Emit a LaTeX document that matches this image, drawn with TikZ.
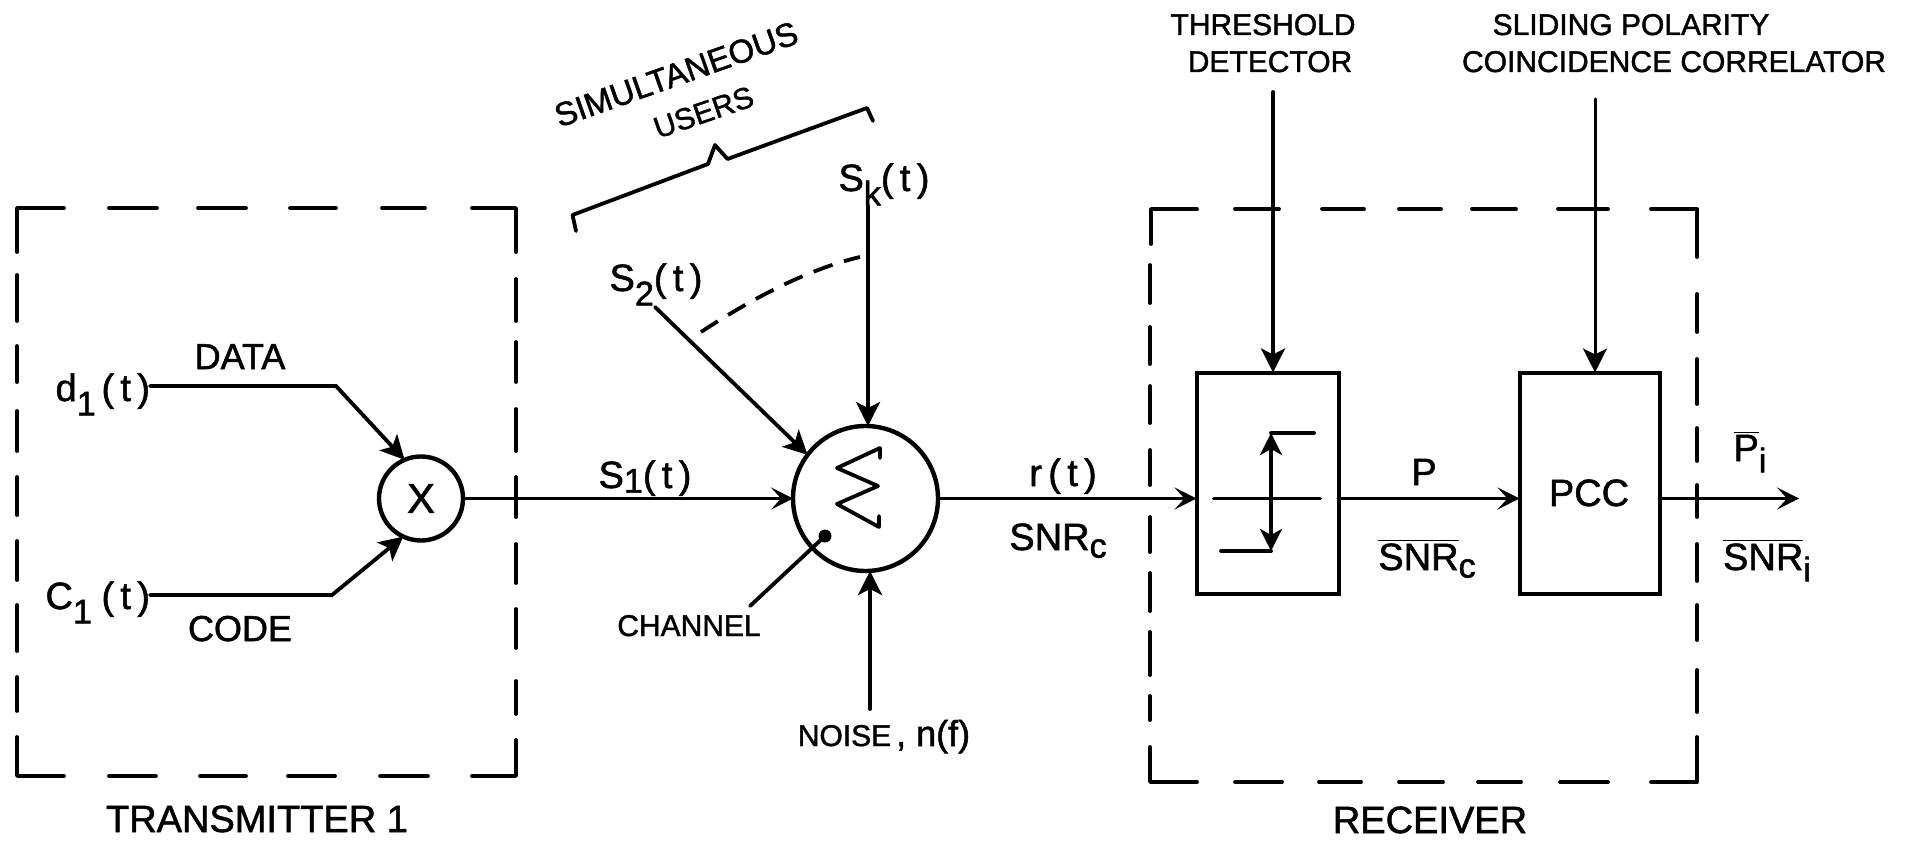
\documentclass[tikz,border=0pt]{standalone}
\usepackage{fontspec}
\setmainfont{Liberation Sans}[RawFeature={embolden=1.4}]
\usetikzlibrary{arrows.meta}
\newcommand{\dnsub}[2][0.38em]{\raisebox{-#1}{\scalebox{0.9}{#2}}}
\newcommand{\ovl}[1]{$\overline{\hbox{#1}}$}
\tikzset{
  x=0.5pt,y=-0.5pt,
  wire/.style={line width=1.9pt,line cap=round,line join=miter},
  barb/.style={wire,-{Stealth[length=11pt,width=11pt,inset=5pt]}},
  solidtip/.style={wire,-{Stealth[length=12pt,width=12pt,inset=3pt]}},
  bothtip/.style={wire,{Stealth[length=11pt,width=11pt,inset=3pt]}-{Stealth[length=11pt,width=11pt,inset=3pt]}},
  dashseg/.style={line width=1.9pt,line cap=round,line join=round},
  box/.style={draw,line width=2pt,inner sep=0pt,outer sep=0pt},
  disc/.style={draw,circle,line width=2.2pt,inner sep=0pt,outer sep=0pt},
  lab/.style={inner sep=0pt,outer sep=0pt,anchor=base},
  big/.style={lab,font=\fontsize{19}{19}\selectfont},
  mid/.style={lab,font=\fontsize{18}{18}\selectfont},
  small/.style={lab,font=\fontsize{15}{15}\selectfont},
}
\begin{document}
\begin{tikzpicture}
\useasboundingbox (0,0) rectangle (1910,840);
% Transmitter dashed frame
\draw[dashseg] (17,252)--(17,208)--(64,208);
\foreach \a/\b in {109/157,198/246,290/336,382/425}{\draw[dashseg] (\a,208)--(\b,208);}
\draw[dashseg] (472,208)--(516,208)--(516,252);
\foreach \a/\b in {279/321,342/382,409/451,477/517,544/583,609/648,681/714}{\draw[dashseg] (516,\a)--(516,\b);}
\draw[dashseg] (516,740)--(516,776)--(472,776);
\foreach \a/\b in {109/156,200/246,288/335,380/428}{\draw[dashseg] (\a,776)--(\b,776);}
\draw[dashseg] (64,776)--(17,776)--(17,737);
\foreach \a/\b in {275/321,346/382,411/451,477/515,541/580,605/651,677/711}{\draw[dashseg] (17,\a)--(17,\b);}
% Receiver dashed frame
\draw[dashseg] (1151,244)--(1151,209)--(1197,209);
\foreach \a/\b in {1235/1279,1322/1364,1399/1441,1472/1516,1558/1608}{\draw[dashseg] (\a,209)--(\b,209);}
\draw[dashseg] (1651,209)--(1697,209)--(1697,257);
\foreach \a/\b in {294/332,359/404,428/461,485/517,544/581,605/640,670/712}{\draw[dashseg] (1697,\a)--(1697,\b);}
\draw[dashseg] (1697,737)--(1697,782)--(1651,782);
\foreach \a/\b in {1235/1282,1319/1361,1399/1443,1478/1521,1560/1608}{\draw[dashseg] (\a,782)--(\b,782);}
\draw[dashseg] (1197,782)--(1150,782)--(1150,747);
\foreach \a/\b in {265/303,327/364,386/423,450/485,517/552,573/611,632/675,696/720}{\draw[dashseg] (1150,\a)--(1150,\b);}
% Blocks
\node[disc,minimum size=42pt,font=\fontsize{21}{21}\selectfont] (mul) at (421,498.5) {X};
\node[disc,minimum size=72.5pt] (sum) at (865.5,498.5) {};
\node[box,minimum width=71pt,minimum height=110.5pt] (thr) at (1267.5,483) {};
\node[box,minimum width=70pt,minimum height=110.5pt] (pcc) at (1589.5,483) {};
\node[lab,font=\fontsize{19}{19}\selectfont] (pcclab) at (1589,506) {PCC};
% Texts
\node[big,anchor=base east] (d1) at (150,401) {d\dnsub{1}\hspace{0.15em}(\,t\,)};
\node[big,anchor=base east] (c1) at (150,609) {C\dnsub{1}\hspace{0.25em}(\,t\,)};
\node[mid] (data) at (240,369) {DATA};
\node[mid] (code) at (240,641) {CODE};
\node[big] (tx) at (257,832) {TRANSMITTER 1};
\node[big] (s1) at (645,488) {S\dnsub[0.12em]{1}(\,t\,)};
\node[big] (s2) at (656,291) {S\dnsub{2}(\,t\,)};
\node[big] (sk) at (884,191) {S\dnsub{k}(\,t\,)};
\node[big] (rt) at (1063,486) {r\,(\,t\,)};
\node[big] (snrc) at (1058,550) {SNR\dnsub[0.2em]{c}};
\node[small] (chan) at (689,636) {CHANNEL};
\node[lab] (noise) at (884,746) {\fontsize{15}{15}\selectfont NOISE\,\fontsize{18}{18}\selectfont, n(f)};
\node[lab,font=\fontsize{16.5}{16.5}\selectfont,rotate=19.5] (sim) at (680,85) {SIMULTANEOUS};
\node[small,rotate=19] (users) at (707,122) {USERS};
\node[small] (th1) at (1263,35) {THRESHOLD};
\node[small] (th2) at (1270,72) {DETECTOR};
\node[small] (sl1) at (1631,35) {SLIDING POLARITY};
\node[small] (sl2) at (1674,72) {COINCIDENCE CORRELATOR};
\node[big] (p) at (1424,485) {P};
\node[big] (snrbar) at (1427,570) {\ovl{SNR}\dnsub[0.2em]{c}};
\node[big] (pi) at (1750,461) {\ovl{P}\dnsub[0.3em]{i}};
\node[big] (snri) at (1767,570) {\ovl{SNR}\dnsub[0.3em]{i}};
\node[big] (rx) at (1430,833) {RECEIVER};
% Free ends and bends
\coordinate (dbend) at (336,386);
\coordinate (cbend) at (332,595);
\coordinate (s2start) at (655,307);
\coordinate (sktop) at (868,206);
\coordinate (noisebot) at (870,709);
\coordinate (chanstart) at (750,606);
\coordinate (chandot) at (825,536);
\coordinate (thtop) at (1273,92);
\coordinate (pcctop) at (1595,99);
\coordinate (out) at (1799,498.5);
% Connectors
\draw[solidtip] (d1.east|-dbend) -- (dbend) -- (mul.113);
\draw[solidtip] (c1.east|-cbend) -- (cbend) -- (mul.245);
\draw[barb] (mul.east) -- (sum.west);
\draw[solidtip] (s2start) -- (sum.143);
\draw[solidtip] (sktop) -- (sktop|-sum.north);
\draw[solidtip] (noisebot) -- (noisebot|-sum.south);
\draw[wire] (chanstart) -- (chandot);
\fill (chandot) circle[radius=6.5];
\draw[barb] (sum.east) -- (sum.east-|thr.west);
\draw[barb] (thr.east|-sum.east) -- (pcc.west|-sum.east);
\draw[barb] (pcc.east|-sum.east) -- (out);
\draw[solidtip] (thtop) -- (thtop|-thr.north);
\draw[solidtip,line width=1.5pt] (pcctop) -- (pcctop|-pcc.north);
% Dashed user line
\draw[wire,dash pattern=on 10pt off 6pt,line cap=butt] (701,332) .. controls (750,300) and (805,270) .. (860,257);
% Brace
\draw[wire,line join=round] (576,231) -- (572.5,215) -- (708,164) -- (715,145) -- (727.5,159) -- (867,108) -- (873,121);
% Summing sign
\draw[wire,line join=round] (880,458) -- (880,448) -- (837,468) -- (878,486) -- (837,504) -- (879,527) -- (879,516);
% Threshold symbol
\draw[wire] (1214,498.5) -- (1320,498.5);
\draw[wire] (1314,433) -- (1271,433);
\draw[wire] (1221,551) -- (1271,551);
\draw[bothtip] (1271,433) -- (1271,551);
\end{tikzpicture}
\end{document}
